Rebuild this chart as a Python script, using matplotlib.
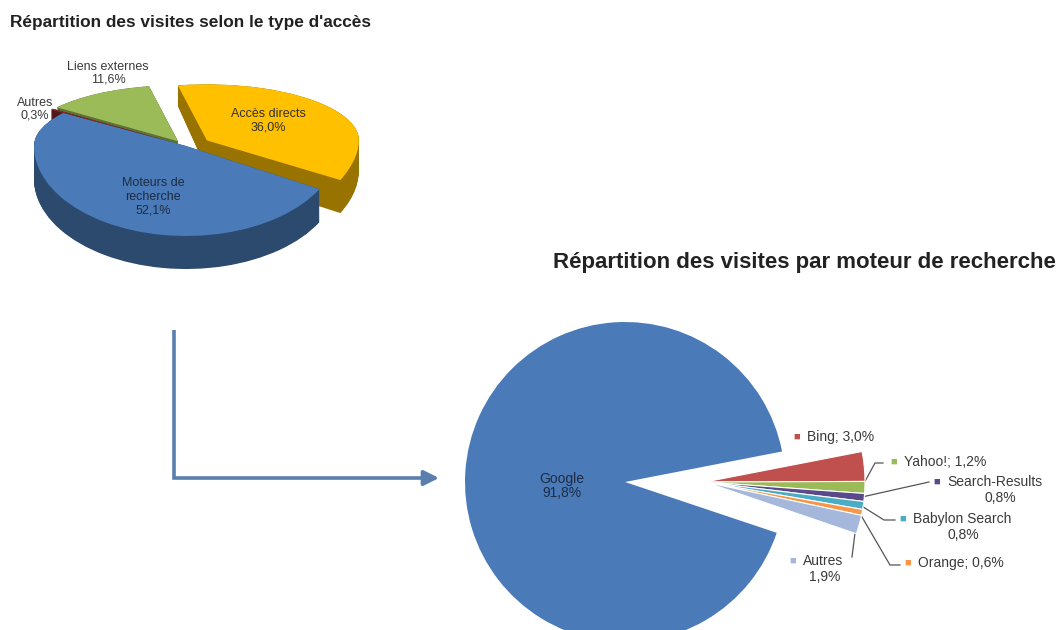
import numpy as np
import matplotlib
matplotlib.use("Agg")
import matplotlib.pyplot as plt
from matplotlib.colors import to_rgb

plt.rcParams['font.family'] = ['Liberation Sans', 'DejaVu Sans']

# ---------------- data ----------------
acces_labels = ["Accès directs", "Moteurs de\nrecherche", "Autres", "Liens externes"]
acces_values = [36.0, 52.1, 0.3, 11.6]
acces_text = ["36,0%", "52,1%", "0,3%", "11,6%"]
acces_colors = ["#FFC000", "#4A7AB7", "#8B2A2A", "#9BBB59"]
acces_explode = [0.17, 0.0, 0.10, 0.10]

moteur_labels = ["Bing", "Yahoo!", "Search-Results", "Babylon Search", "Orange", "Autres"]
moteur_values = [3.0, 1.2, 0.8, 0.8, 0.6, 1.9]
moteur_text = ["3,0%", "1,2%", "0,8%", "0,8%", "0,6%", "1,9%"]
moteur_colors = ["#C0504D", "#9BBB59", "#5B4A8A", "#4BACC6", "#F79646", "#A5B8DC"]
google_label = "Google"
google_value = 91.8
google_text = "91,8%"
google_color = "#4A7AB7"

W, H = 1057, 630
fig = plt.figure(figsize=(W / 100, H / 100), dpi=100)

def fx(x):
    return x / W

def fy(y):
    return 1 - y / H

def px_axes(x0, y0, x1, y1):
    return fig.add_axes([fx(x0), fy(y1), (x1 - x0) / W, (y1 - y0) / H])

txt_col = "#3a3a3a"

# ---------------- left: 3D-like pie (perspective via y function scale) ----------------
fig.text(fx(10), fy(22), "Répartition des visites selon le type d'accès",
         fontsize=12.4, fontweight="bold", color="#222222", va="center", ha="left")

cx, cy, rx = 186, 146, 152
ry_top, ry_bot, depth = 56.0, 90.0, 33
LX0, LY0, LX1, LY1 = 0, 40, 380, 300
axL = px_axes(LX0, LY0, LX1, LY1)

def darker(c, f=0.6):
    r, g, b = to_rgb(c)
    return (r * f, g * f, b * f)

side_cols = [darker(c) for c in acces_colors]
dd = depth / ry_bot
for k in np.linspace(dd, 0.0, 50):
    axL.pie(acces_values, colors=side_cols, startangle=101, counterclock=False,
            explode=acces_explode, center=(0, -k), normalize=True,
            wedgeprops=dict(linewidth=0))
axL.pie(acces_values, colors=acces_colors, startangle=101, counterclock=False,
        explode=acces_explode, center=(0, 0), normalize=True,
        wedgeprops=dict(linewidth=0))

def fwd(y):
    y = np.asarray(y, dtype=float)
    return np.where(y < 0, y * ry_bot, y * ry_top)

def inv(v):
    v = np.asarray(v, dtype=float)
    return np.where(v < 0, v / ry_bot, v / ry_top)

axL.set_aspect("auto")
axL.set_yscale("function", functions=(fwd, inv))
axL.set_xlim((LX0 - cx) / rx, (LX1 - cx) / rx)
axL.set_ylim((cy - LY1) / ry_bot, (cy - LY0) / ry_top)
axL.axis("off")

lab_fs = 9
fig.text(fx(268), fy(121), acces_labels[0] + "\n" + acces_text[0], fontsize=lab_fs,
         ha="center", va="center", color="#303030", linespacing=1.15)
fig.text(fx(153), fy(197), acces_labels[1] + "\n" + acces_text[1], fontsize=lab_fs,
         ha="center", va="center", color="#1d2c44", linespacing=1.2)
fig.text(fx(35), fy(109), acces_labels[2] + "\n" + acces_text[2], fontsize=lab_fs,
         ha="center", va="center", color=txt_col, linespacing=1.1)
fig.text(fx(108), fy(73), acces_labels[3] + "\n" + acces_text[3], fontsize=lab_fs,
         ha="center", va="center", color=txt_col, linespacing=1.1)

# ---------------- arrow ----------------
axA = fig.add_axes([0, 0, 1, 1], facecolor="none")
axA.set_xlim(0, W)
axA.set_ylim(H, 0)
axA.axis("off")
arrow_col = "#5A7FAE"
axA.plot([174, 174, 425], [330, 478, 478], color=arrow_col, lw=2.6,
         solid_capstyle="butt", solid_joinstyle="miter")
axA.annotate("", xy=(439, 478), xytext=(424, 478),
             arrowprops=dict(arrowstyle="-|>,head_length=0.9,head_width=0.45",
                             color=arrow_col, lw=2.6, shrinkA=0, shrinkB=0))

# ---------------- right: exploded pie ----------------
fig.text(fx(553), fy(262), "Répartition des visites par moteur de recherche",
         fontsize=16, fontweight="bold", color="#222222", va="center", ha="left")

pcx, pcy, R = 625, 482, 160
ax0, ay0, ax1, ay1 = 380, 300, 1057, 630
axR = px_axes(ax0, ay0, ax1, ay1)
start = 11.0
g_w, _ = axR.pie([google_value / 100.0], colors=[google_color], startangle=start,
                 counterclock=True, normalize=False, center=(0, 0),
                 wedgeprops=dict(linewidth=0))
shift = 80 / R
s_w, _ = axR.pie([v / 100.0 for v in moteur_values], colors=moteur_colors,
                 startangle=start, counterclock=False, normalize=False,
                 center=(shift, 0),
                 wedgeprops=dict(linewidth=0.8, edgecolor="white"))
axR.set_aspect("auto")
axR.set_xlim((ax0 - pcx) / R, (ax1 - pcx) / R)
axR.set_ylim((pcy - ay1) / R, (pcy - ay0) / R)
axR.axis("off")

fig.text(fx(562), fy(486), google_label + "\n" + google_text, fontsize=10,
         ha="center", va="center", color="#1d2c44", linespacing=1.05)

# label layout (pixels): square x, first-line y, two-line?, second-line centre x
lab_pos = [(797, 437, False, 0), (894, 462, False, 0), (937, 482, True, 1000),
           (903, 519, True, 963), (908, 563, False, 0), (793, 561, True, 825)]
lab_fs2 = 10

def wedge_pt(w, frac=1.0):
    th = np.deg2rad((w.theta1 + w.theta2) / 2)
    x = w.center[0] + frac * w.r * np.cos(th)
    y = w.center[1] + frac * w.r * np.sin(th)
    return pcx + x * R, pcy - y * R

leaders = {
    1: [(875, 463), (883, 463)],
    2: [(929, 482)],
    3: [(884, 520), (895, 520)],
    4: [(890, 565), (900, 565)],
    5: [(852, 557)],
}
for i, (name, val, col, (lx, ly, two, vx)) in enumerate(
        zip(moteur_labels, moteur_text, moteur_colors, lab_pos)):
    fig.text(fx(lx), fy(ly), "■", fontsize=8, color=col, ha="center", va="center")
    if not two:
        fig.text(fx(lx + 10), fy(ly), f"{name}; {val}", fontsize=lab_fs2,
                 color=txt_col, ha="left", va="center")
    else:
        fig.text(fx(lx + 10), fy(ly), name, fontsize=lab_fs2,
                 color=txt_col, ha="left", va="center")
        fig.text(fx(vx), fy(ly + 16), val, fontsize=lab_fs2,
                 color=txt_col, ha="center", va="center")
    if i in leaders:
        sx, sy = wedge_pt(s_w[i], 0.98)
        pts = [(sx, sy)] + leaders[i]
        axA.plot([p[0] for p in pts], [p[1] for p in pts], color="#555555", lw=0.9)

fig.savefig("out.png", dpi=100, facecolor="white")
